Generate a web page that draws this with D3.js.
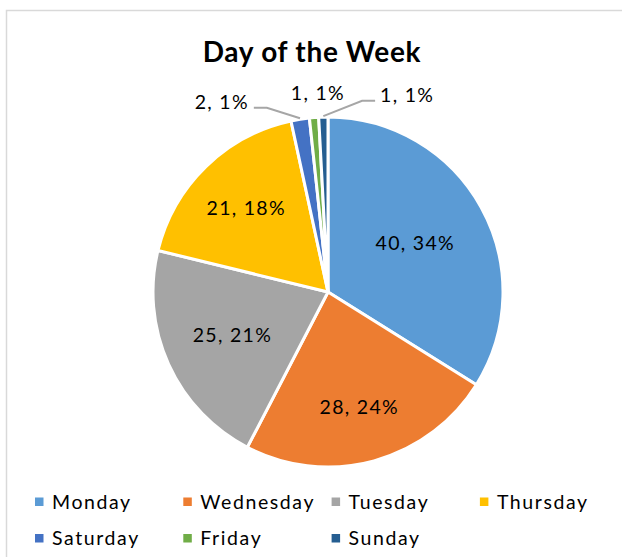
<!DOCTYPE html>
<html>
<head>
<meta charset="utf-8">
<script src="https://cdn.jsdelivr.net/npm/d3@7"></script>
<style>
  body { margin: 0; background: #fff; }
  text { font-family: Lato, "Noto Sans", sans-serif; fill: #000; }
</style>
</head>
<body>
<svg width="622" height="557"></svg>
<script>
// data
var days = ["Monday", "Wednesday", "Tuesday", "Thursday", "Saturday", "Friday", "Sunday"];
var counts = [40, 28, 25, 21, 2, 1, 1];
var pctLabels = ["34%", "24%", "21%", "18%", "1%", "1%", "1%"];

var colors = ["#5B9BD5", "#ED7D31", "#A5A5A5", "#FFC000", "#4472C4", "#70AD47", "#255E91"];

// label layout: inner labels sit at a fraction of the radius,
// small slices put their labels outside (degrees clockwise from top, distance)
var innerLabelDist = { Monday: 0.57, Wednesday: 0.68, Tuesday: 0.6, Thursday: 0.67 };
var outerLabels = {
    Saturday: { angle: 337.4, dist: 206, anchor: "end", leader: true },
    Friday: { angle: 357.1, dist: 199, anchor: "middle", leader: false },
    Sunday: { angle: 14.8, dist: 204, anchor: "start", leader: true }
};

var svg = d3.select("svg");
var cx = 328, cy = 292, r = 175;

svg.append("rect")
    .attr("x", 6.5).attr("y", 10.5)
    .attr("width", 700).attr("height", 700)
    .style("fill", "#fff")
    .style("stroke", "#d9d9d9")
    .style("stroke-width", "1.5px");

svg.append("text")
    .attr("x", 312).attr("y", 62)
    .style("text-anchor", "middle")
    .style("font-size", "28px")
    .style("font-weight", "bold")
    .style("letter-spacing", "0.7px")
    .text("Day of the Week");

var data = days.map(function(d, i) {
    return { day: d, count: counts[i], pct: pctLabels[i], color: colors[i] };
});

var pie = d3.pie().sort(null).value(function(d) { return d.count; });
var arc = d3.arc().innerRadius(0).outerRadius(r);

var g = svg.append("g").attr("transform", "translate(" + cx + "," + cy + ")");
var arcs = pie(data);

g.selectAll("path.slice")
    .data(arcs)
    .enter()
    .append("path")
    .attr("class", "slice")
    .attr("d", arc)
    .style("fill", function(d) { return d.data.color; })
    .style("stroke", "#fff")
    .style("stroke-width", "3px")
    .style("stroke-linejoin", "round");

function polar(angleDeg, dist) {
    var a = angleDeg * Math.PI / 180;
    return [Math.sin(a) * dist, -Math.cos(a) * dist];
}

// inside labels
g.selectAll("text.inner")
    .data(arcs.filter(function(d) { return !outerLabels[d.data.day]; }))
    .enter()
    .append("text")
    .attr("class", "inner")
    .attr("transform", function(d) {
        var k = innerLabelDist[d.data.day] * r;
        return "translate(" + d3.arc().innerRadius(k).outerRadius(k).centroid(d) + ")";
    })
    .attr("dy", "0.35em")
    .style("text-anchor", "middle")
    .style("font-size", "19.5px")
    .style("letter-spacing", "1.3px")
    .text(function(d) { return d.data.count + ", " + d.data.pct; });

// outside labels with leader lines
var outer = arcs.filter(function(d) { return outerLabels[d.data.day]; });

outer.forEach(function(d) {
    var o = outerLabels[d.data.day];
    var p = polar(o.angle, o.dist);
    g.append("text")
        .attr("x", p[0]).attr("y", p[1])
        .attr("dy", "0.35em")
        .style("text-anchor", o.anchor)
        .style("font-size", "19.5px")
        .style("letter-spacing", "1.3px")
        .text(d.data.count + ", " + d.data.pct);
    if (o.leader) {
        var mid = (d.startAngle + d.endAngle) / 2;
        var edge = [Math.sin(mid) * (r + 1), -Math.cos(mid) * (r + 1)];
        var side = o.anchor === "end" ? 1 : -1;
        var lineY = p[1] + 6;
        var startX = p[0] + side * 5;
        var elbowX = startX + side * 13;
        g.append("polyline")
            .attr("points", [[startX, lineY], [elbowX, lineY], edge].map(function(q) { return q.join(","); }).join(" "))
            .style("fill", "none")
            .style("stroke", "#A6A6A6")
            .style("stroke-width", "2px");
    }
});

// legend
var legend = svg.append("g").attr("transform", "translate(35,0)");
var item = legend.selectAll("g")
    .data(data)
    .enter()
    .append("g")
    .attr("transform", function(d, i) {
        return "translate(" + ((i % 4) * 148.3) + "," + (502 + Math.floor(i / 4) * 36.5) + ")";
    });

item.append("rect")
    .attr("x", 0).attr("y", -4.5)
    .attr("width", 8.5).attr("height", 8.5)
    .style("fill", function(d) { return d.color; });

item.append("text")
    .attr("x", 17)
    .attr("dy", "0.35em")
    .style("font-size", "19.5px")
    .style("letter-spacing", "1.6px")
    .text(function(d) { return d.day; });
</script>
</body>
</html>
